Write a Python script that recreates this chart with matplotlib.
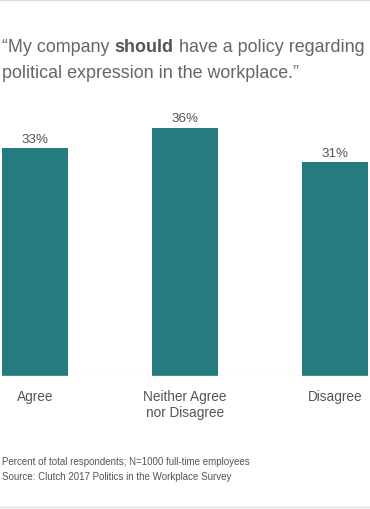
import matplotlib.pyplot as plt
from matplotlib.lines import Line2D

categories = ['Agree', 'Neither Agree\nnor Disagree', 'Disagree']
values = [33, 36, 31]
value_labels = ['33%', '36%', '31%']
footnote = ['Percent of total respondents; N=1000 full-time employees',
            'Source: Clutch 2017 Politics in the Workplace Survey']

plt.rcParams['font.family'] = ['Liberation Sans', 'DejaVu Sans']

W, H = 370, 510
fig = plt.figure(figsize=(W / 100, H / 100), dpi=100)

# axes placed in pixel units: baseline at y=377, top at y=110
ax = fig.add_axes([0, (H - 377) / H, 1, (377 - 110) / H])
x = range(len(categories))
ax.bar(x, values, width=0.44, color='#267b80')
ax.set_xlim(-35 / 150, 2 + 35 / 150)
ax.set_ylim(0, 267 / 6.9)
ax.axhline(0, color='#e6e6e6', lw=1)
for i, v in enumerate(values):
    ax.text(i, v + 0.5, value_labels[i], ha='center', va='bottom',
            fontsize=9.7, color='#555555')
for i, c in enumerate(categories):
    ax.text(i, -1.9, c, ha='center', va='top', fontsize=9.8,
            color='#555555', linespacing=1.2)
ax.axis('off')

# title with bold word
tc = '#666666'
fs = 12.9
t1 = fig.text(2 / W, 1 - 52 / H, '\u201cMy company ', fontsize=fs, color=tc)
t2 = ax.annotate('should', xy=(1, 0), xycoords=t1, fontsize=fs,
                 color='#555555', fontweight='bold', va='bottom')
ax.annotate(' have a policy regarding', xy=(1, 0), xycoords=t2,
            fontsize=fs, color=tc, va='bottom')
fig.text(2 / W, 1 - 78 / H, 'political expression in the workplace.\u201d',
         fontsize=fs, color=tc)

fig.text(2 / W, 1 - 465 / H, footnote[0], fontsize=7, color='#555555')
fig.text(2 / W, 1 - 480 / H, footnote[1], fontsize=7, color='#555555')

fig.add_artist(Line2D([0, 1], [1 - 0.5 / H, 1 - 0.5 / H],
                      transform=fig.transFigure, color='#dddddd', lw=1))
fig.add_artist(Line2D([0, 1], [2 / H, 2 / H],
                      transform=fig.transFigure, color='#dddddd', lw=1))

fig.savefig('out.png', dpi=100)
